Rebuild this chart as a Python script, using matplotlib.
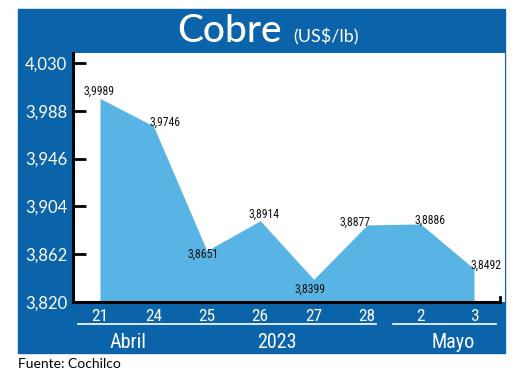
import numpy as np
import matplotlib
matplotlib.use('Agg')
import matplotlib.pyplot as plt
from matplotlib import font_manager
from matplotlib.lines import Line2D
from matplotlib.patches import Rectangle

# data
days = ['21', '24', '25', '26', '27', '28', '2', '3']
prices = [3.9989, 3.9746, 3.8651, 3.8914, 3.8399, 3.8877, 3.8886, 3.8492]
price_labels = ['3,9989', '3,9746', '3,8651', '3,8914', '3,8399', '3,8877', '3,8886', '3,8492']
y_ticks = [3.820, 3.862, 3.904, 3.946, 3.988, 4.030]
y_tick_labels = ['3,820', '3,862', '3,904', '3,946', '3,988', '4,030']

PANEL = '#0b63a9'
FILL = '#58b4e4'


def pick_font(names, default='DejaVu Sans'):
    have = {f.name for f in font_manager.fontManager.ttflist}
    for n in names:
        if n in have:
            return n
    return default


narrow = pick_font(['Liberation Sans Narrow', 'Roboto Condensed', 'DejaVu Sans'])
plain = pick_font(['Lato', 'Open Sans'])

W, H = 520, 374
fig = plt.figure(figsize=(W / 100, H / 100), dpi=100)
fig.patch.set_facecolor('white')


def fx(px):
    return px / W


def fy(py):
    return 1 - py / H


# blue frame
fig.add_artist(Rectangle((fx(18), fy(353)), fx(505) - fx(18), fy(9) - fy(353),
                         transform=fig.transFigure, color=PANEL, zorder=0))

ax = fig.add_axes([fx(73), fy(302), fx(505) - fx(73), fy(53) - fy(302)])
ax.set_facecolor('white')
ax.set_zorder(1)

x = np.arange(len(days))
ax.fill_between(x, prices, 3.82, color=FILL, lw=0)

step = (474 - 100) / 7
ax.set_xlim(-(100 - 73) / step, 7 + (505 - 474) / step)
ax.set_ylim(3.820, 4.030 + 10 / 1138)

for s in ['top', 'right']:
    ax.spines[s].set_visible(False)
ax.spines['left'].set_linewidth(2.2)
ax.spines['bottom'].set_linewidth(2.2)
x_end = 7 + (500 - 474) / step
ax.spines['bottom'].set_bounds(ax.get_xlim()[0], x_end)
ax.plot([x_end, x_end], [3.820, 3.820 + 5 / 1138], color='black', lw=2, clip_on=False)

ax.set_yticks(y_ticks)
ax.set_yticklabels(y_tick_labels, fontsize=12, color='white', family=plain)
ax.tick_params(axis='y', direction='in', length=9, width=2, color='black', pad=4)

ax.set_xticks(x)
ax.set_xticklabels(days, fontsize=12.5, color='white', family=narrow)
ax.tick_params(axis='x', length=0, pad=5)

# value labels
offsets = [(-1, 7), (12, 4), (-4, -4), (4, 6), (-4, -10), (-12, 3), (9, 4), (12, 4)]
for xi, v, lab, off in zip(x, prices, price_labels, offsets):
    ax.annotate(lab, (xi, v), xytext=off, textcoords='offset pixels',
                ha='center', va='center', fontsize=8.5, family=narrow, color='#111111')

# title
fig.text(fx(177), fy(42), 'Cobre', color='white', fontsize=28, family=plain,
         fontweight='medium', va='baseline', ha='left')
fig.text(fx(293), fy(42), '(US$/lb)', color='white', fontsize=13, family=plain,
         va='baseline', ha='left')

# month separators and labels
fig.add_artist(Line2D([fx(78), fx(376)], [fy(324), fy(324)], color='white', lw=1.2))
fig.add_artist(Line2D([fx(393), fx(496)], [fy(324), fy(324)], color='white', lw=1.2))
fig.text(fx(128), fy(342), 'Abril', color='white', fontsize=14.5, family=narrow,
         ha='center', va='center')
fig.text(fx(277), fy(342), '2023', color='white', fontsize=14.5, family=narrow,
         ha='center', va='center')
fig.text(fx(453), fy(342), 'Mayo', color='white', fontsize=14.5, family=narrow,
         ha='center', va='center')

fig.text(fx(18), fy(364), 'Fuente: Cochilco', color='black', fontsize=10,
         family=plain, ha='left', va='center')

fig.savefig('out.png', dpi=100, facecolor='white')
